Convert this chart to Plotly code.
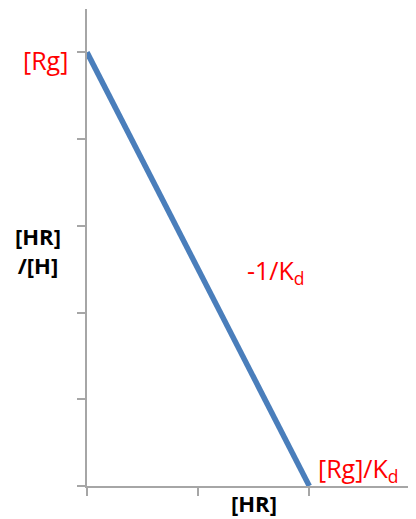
import plotly.graph_objects as go

# Scatchard plot data (arbitrary units)
line_x = [0, 2]
line_y = [5, 0]
x_ticks = [0, 1, 2]
y_ticks = [0, 1, 2, 3, 4, 5]

RED = "#FF0000"
FONT = "Open Sans"

fig = go.Figure()
fig.add_trace(go.Scatter(
    x=line_x, y=line_y, mode="lines",
    line=dict(color="#4A7EBB", width=5.5),
    showlegend=False, hoverinfo="skip", cliponaxis=False,
))

axis_common = dict(
    showline=True, linecolor="#A6A6A6", linewidth=2,
    ticks="outside", tickcolor="#A6A6A6", tickwidth=2, ticklen=8,
    showticklabels=False, showgrid=False, zeroline=False,
)
fig.update_xaxes(range=[0, 2.96], tickvals=x_ticks, **axis_common)
fig.update_yaxes(range=[0, 5.5], tickvals=y_ticks, **axis_common)

annotations = [
    dict(x=-0.052, y=0.893, text="[Rg]", xanchor="right", yanchor="middle",
         font=dict(family=FONT, size=25, color=RED)),
    dict(x=-0.149, y=0.493, text="<b>[HR]</b><br><b>/[H]</b>", xanchor="center", yanchor="middle",
         align="center", font=dict(family=FONT, size=22, color="black")),
    dict(x=0.480, y=0.449, text="-1/K<sub>d</sub>", xanchor="left", yanchor="middle",
         font=dict(family=FONT, size=25, color=RED)),
    dict(x=0.696, y=0.034, text="[Rg]/K<sub>d</sub>", xanchor="left", yanchor="middle",
         font=dict(family=FONT, size=25, color=RED)),
    dict(x=0.508, y=-0.036, text="<b>[HR]</b>", xanchor="center", yanchor="middle",
         font=dict(family=FONT, size=22, color="black")),
]
for a in annotations:
    a.update(xref="paper", yref="paper", showarrow=False)

fig.update_layout(
    width=408, height=511,
    margin=dict(l=79, r=0, t=1, b=33),
    paper_bgcolor="white", plot_bgcolor="white",
    annotations=annotations,
)

fig.write_html("out.html")
